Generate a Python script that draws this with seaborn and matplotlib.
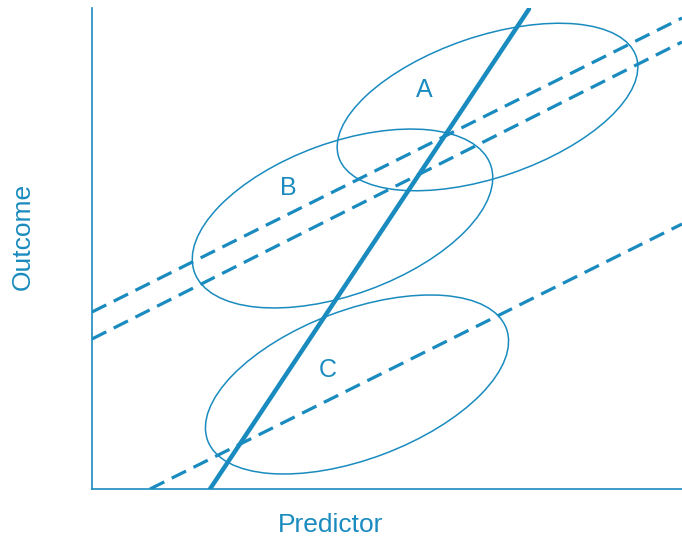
import matplotlib
matplotlib.use("Agg")
import matplotlib.pyplot as plt
import seaborn as sns
from matplotlib.patches import Ellipse

# diagram data (units ~ pixels inside the plot area)
group_names = ["A", "B", "C"]
ellipse_cx = [395.5, 250.5, 265.0]
ellipse_cy = [382.0, 270.5, 104.5]
ellipse_w = [314, 315, 319]
ellipse_h = [141, 152, 149]
ellipse_angle = [18.8, 20.0, 20.6]
label_x = [332, 196, 236]
label_y = [399, 301, 119]

# overall (between-group) regression line
overall_x = [118, 437]
overall_y = [0, 480]

# within-group regression lines (dashed)
within_x = [[0, 590], [0, 590], [58, 590]]
within_y = [[177, 471], [150, 447], [0, 265]]

blue = "#1a8bbf"

sns.set_style("white")
plt.rcParams['font.family'] = ['Liberation Sans', 'DejaVu Sans']

fig = plt.figure(figsize=(6.82, 5.39), dpi=100)
ax = fig.add_axes([92 / 682, 50 / 539, 590 / 682, 481 / 539])

for xs, ys in zip(within_x, within_y):
    sns.lineplot(x=xs, y=ys, ax=ax, color=blue, lw=2.3, linestyle=(0, (5, 2.6)), sort=False)
sns.lineplot(x=overall_x, y=overall_y, ax=ax, color=blue, lw=3.2, sort=False)

for cx, cy, w, h, ang in zip(ellipse_cx, ellipse_cy, ellipse_w, ellipse_h, ellipse_angle):
    ax.add_patch(Ellipse((cx, cy), w, h, angle=ang, fill=False, ec=blue, lw=1.1))

for name, lx, ly in zip(group_names, label_x, label_y):
    ax.text(lx, ly, name, color=blue, fontsize=18, ha="center", va="center")

ax.set_xlim(0, 590)
ax.set_ylim(0, 481)
ax.set_xticks([])
ax.set_yticks([])
for side in ["top", "right"]:
    ax.spines[side].set_visible(False)
for side in ["left", "bottom"]:
    ax.spines[side].set_color(blue)
    ax.spines[side].set_linewidth(1.2)

ax.set_xlabel("Predictor", color=blue, fontsize=19)
ax.set_ylabel("Outcome", color=blue, fontsize=19)
ax.xaxis.set_label_coords(239 / 590, -24 / 481)
ax.yaxis.set_label_coords(-57 / 590, 253 / 481)

fig.savefig("out.png", dpi=100)
